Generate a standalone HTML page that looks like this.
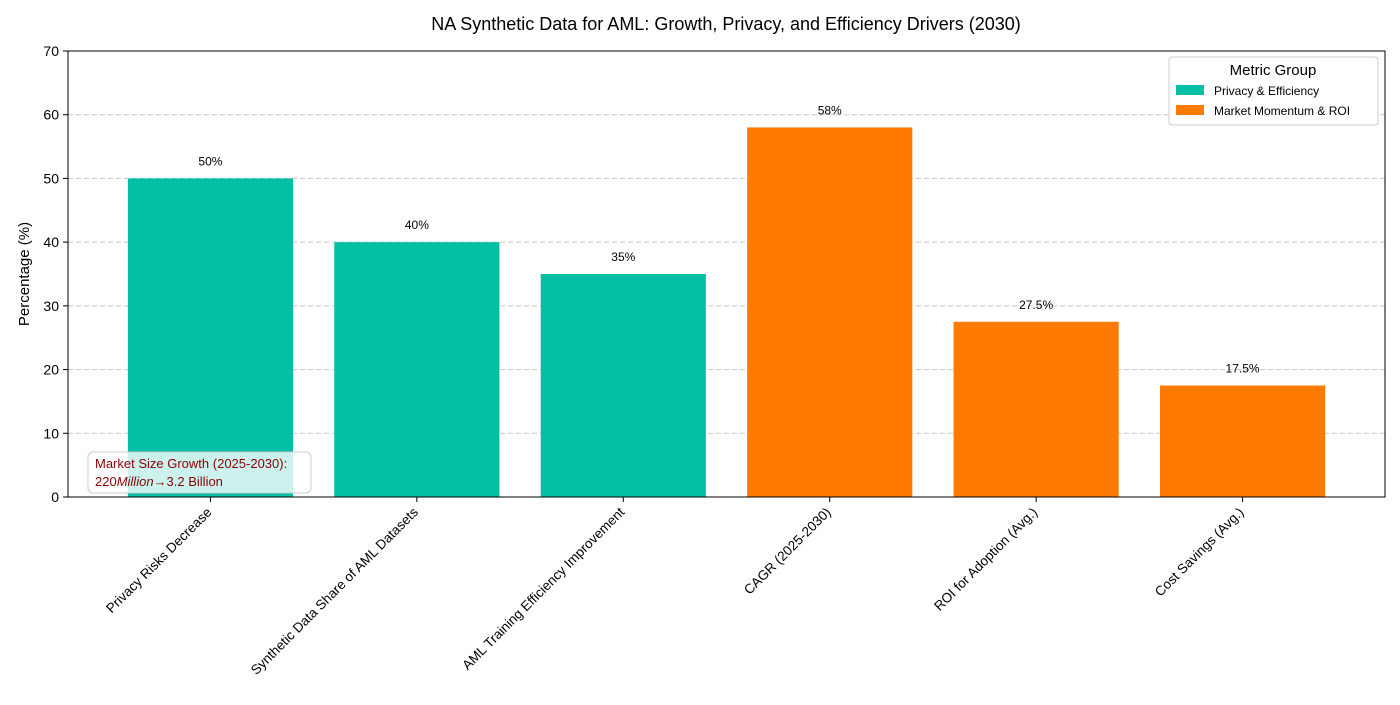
<!DOCTYPE html>
<html><head><meta charset="utf-8"><style>
body{margin:0;background:#fff;font-family:"Liberation Sans",sans-serif;}
</style></head><body>
<svg id="chart" width="1400" height="700" xmlns="http://www.w3.org/2000/svg" font-family="Liberation Sans, sans-serif">
<text x="726" y="30" font-size="18" text-anchor="middle">NA Synthetic Data for AML: Growth, Privacy, and Efficiency Drivers (2030)</text>
<g id="grid"></g><g id="bars"></g><g id="axes"></g>
</svg>
<script>
const categories=["Privacy Risks Decrease","Synthetic Data Share of AML Datasets","AML Training Efficiency Improvement","CAGR (2025-2030)","ROI for Adoption (Avg.)","Cost Savings (Avg.)"];
const values=[50,40,35,58,27.5,17.5];
const labels=["50%","40%","35%","58%","27.5%","17.5%"];
const groups=[0,0,0,1,1,1];
const groupNames=["Privacy & Efficiency","Market Momentum & ROI"];
const groupColors=["#02BFA6","#FF7A00"];
const yTicks=[0,10,20,30,40,50,60,70];
const L=68,R=1385,T=51,B=497,yMax=70;
const NS="http://www.w3.org/2000/svg";
const y=v=>B-(v/yMax)*(B-T);
const step=(R-L)/(categories.length-1+1.38);
const x=i=>L+step*(0.69+i);
const bw=step*0.8;
function mk(tag,attrs,parent,text){const e=document.createElementNS(NS,tag);for(const k in attrs)e.setAttribute(k,attrs[k]);if(text!==undefined)e.textContent=text;parent.appendChild(e);return e;}
const grid=document.getElementById('grid'),bars=document.getElementById('bars'),axes=document.getElementById('axes');
yTicks.forEach(t=>{
 if(t>0&&t<yMax){const g=mk('line',{x1:L,x2:R,y1:y(t),y2:y(t),stroke:'#c8c8c8','stroke-dasharray':'5,3'},grid);
 
 }
 const tk=mk('line',{x1:L-5,x2:L,y1:y(t),y2:y(t),stroke:'#000'},axes);
 
 
 const tl=mk('text',{x:L-9,y:y(t)+5,'font-size':14,'text-anchor':'end'},axes,String(t));
 
 
});
values.forEach((v,i)=>{
 const r=mk('rect',{x:x(i)-bw/2,y:y(v),width:bw,height:B-y(v),fill:groupColors[groups[i]]},bars);
 
 
 const t=mk('text',{x:x(i),y:y(v)-13,'font-size':12,'text-anchor':'middle'},bars,labels[i]);
 
 
 const tk=mk('line',{x1:x(i),x2:x(i),y1:B,y2:B+5,stroke:'#000'},axes);
 
 
 const ax=x(i)+2,ay=B+16;
 const xl=mk('text',{x:ax,y:ay,'font-size':13.5,'text-anchor':'end',transform:`rotate(-45 ${ax} ${ay})`},axes,categories[i]);
 
 
});
const fr=mk('rect',{x:L,y:T,width:R-L,height:B-T,fill:'none',stroke:'#000'},axes);


const yt=mk('text',{x:29,y:(T+B)/2,'font-size':15,'text-anchor':'middle',transform:`rotate(-90 29 ${(T+B)/2})`},axes,'Percentage (%)');


const ab=mk('rect',{x:88,y:452,width:223,height:41,rx:5,fill:'rgba(255,255,255,0.8)',stroke:'#ccc'},axes);


const a1=mk('text',{x:95,y:468,'font-size':13,fill:'#8B0000'},axes,'Market Size Growth (2025-2030):');


const a2=mk('text',{x:95,y:486,'font-size':13,fill:'#8B0000'},axes);


a2.innerHTML='220<tspan font-style="italic">Million</tspan>→3.2 Billion';
const lg=mk('g',{},axes);


mk('rect',{x:1169,y:57,width:209,height:68,rx:3,fill:'#fff',stroke:'#ccc'},lg);
mk('text',{x:1273,y:75,'font-size':15,'text-anchor':'middle'},lg,'Metric Group');
groupNames.forEach((n,j)=>{
 const e=mk('g',{},lg);
 
 
 mk('rect',{x:1176,y:85+j*20,width:28,height:10,fill:groupColors[j]},e);
 mk('text',{x:1214,y:95+j*20,'font-size':12},e,n);
});
</script>
</body></html>
